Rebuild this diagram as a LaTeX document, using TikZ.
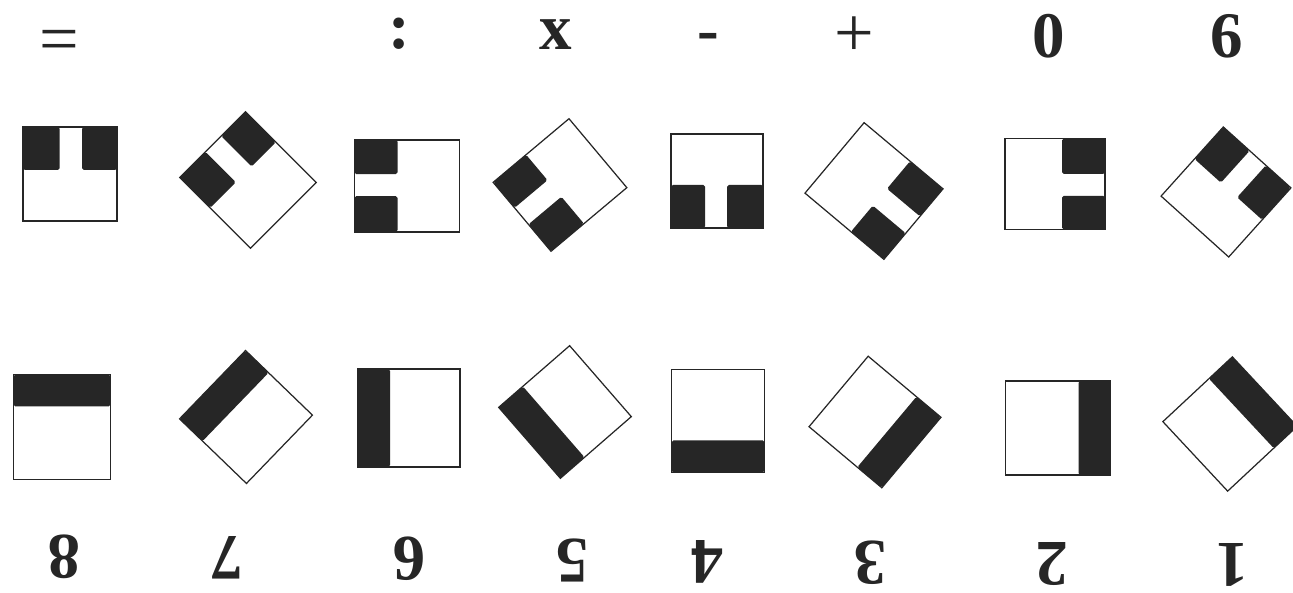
\documentclass[tikz,border=0pt]{standalone}
\usepackage{fontspec}
\setmainfont{Liberation Serif}
\usepackage{tikz}
\definecolor{ink}{HTML}{262626}
\definecolor{paper}{HTML}{FFFFFF}
\tikzset{
  card/.style={
    draw=ink,
    line width=0.7pt,
    fill=paper
  },
  blot/.style={
    fill=ink,
    rounded corners=1pt
  },
  sign/.style={
    inner sep=1pt,
    color=ink,
    font=\fontsize{37}{40}\selectfont\bfseries
  },
  thin sign/.style={sign, font=\fontsize{40}{44}\selectfont},
  flipped sign/.style={sign, rotate=180}
}

\begin{document}
\begin{tikzpicture}[x=0.2mm, y=-0.2mm]
  \useasboundingbox (0,0) rectangle (1293,593);

  % Upper cards: two blots on one edge
  \foreach \cx/\cy/\ang/\w/\h in {70/174/0/94/94, 248/180/45/93/100, 407/186/90/92/105, 560/185/130/90/99,
                                  717/181/180/92/94, 874/191/230/92/103, 1055/184/270/91/100, 1226/192/318/91/93}{
    \begin{scope}[shift={(\cx,\cy)}, rotate=\ang]
      \draw[card] (-\w/2,-\h/2) rectangle (\w/2,\h/2);
      \fill[blot] (-\w/2,-\h/2) rectangle ++(0.39*\w,43);
      \fill[blot] (\w/2,-\h/2) rectangle ++(-0.37*\w,43);
    \end{scope}
  }

  % Lower cards: one band on one edge
  \foreach \cx/\cy/\ang/\w/\h in {62/427/0/97/105, 246/417/46/95/93, 409/418/90/98/102, 565/412/131/94/94,
                                  718/421/180/93/103, 875/422/230/92/95, 1058/428/270/94/105, 1230/424/313/95/95}{
    \begin{scope}[shift={(\cx,\cy)}, rotate=\ang]
      \draw[card] (-\w/2,-\h/2) rectangle (\w/2,\h/2);
      \fill[blot] (-\w/2,-\h/2) rectangle (\w/2,-\h/2+32);
    \end{scope}
  }

  % Upper signs
  \node[thin sign] (sgn-eq) at (59,46) {=};
  \node[sign] (sgn-colon) at (399,34) {:};
  \node[sign] (sgn-x) at (556,35) {x};
  \node[sign] (sgn-minus) at (708,42) {-};
  \node[thin sign] (sgn-plus) at (854,37) {+};
  \node[sign] (sgn-zero) at (1049,36) {0};
  \node[sign] (sgn-six) at (1227,36) {6};

  % Lower digits, upside down
  \foreach \d/\lx/\ly in {8/64/557, 7/227/558, 6/409/559, 5/572/560, 4/707/562, 3/870/563, 2/1052/564, 1/1232/565}
    \node[flipped sign] (num\d) at (\lx,\ly) {\d};

\end{tikzpicture}
\end{document}
